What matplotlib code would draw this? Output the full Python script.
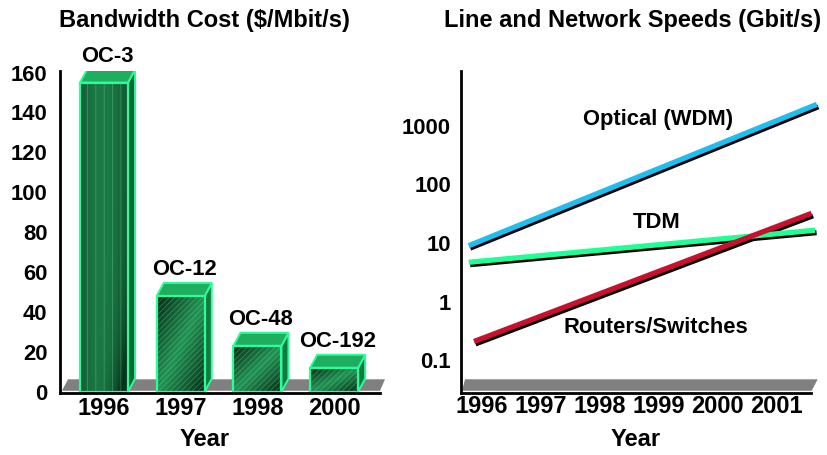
import matplotlib.pyplot as plt
import matplotlib.transforms as mtransforms
from matplotlib.patches import Polygon, Rectangle
import numpy as np

plt.rcParams['font.family'] = ['Liberation Sans', 'DejaVu Sans']
plt.rcParams['font.weight'] = 'bold'
plt.rcParams['hatch.linewidth'] = 0.6

# --- bandwidth cost per year ---
cost_years = ['1996', '1997', '1998', '2000']
cost_values = [155, 48, 23, 12]
cost_labels = ['OC-3', 'OC-12', 'OC-48', 'OC-192']

# --- line / network speeds (start and end of each trend) ---
speed_years = [1996, 1997, 1998, 1999, 2000, 2001]
optical_x = [1995.78, 2001.68]
optical_y = [9.0, 2300]
tdm_x = [1995.78, 2001.65]
tdm_y = [4.7, 16.5]
router_x = [1995.87, 2001.59]
router_y = [0.21, 32]
speed_ticks = [0.1, 1, 10, 100, 1000]
speed_ticklabels = ['0.1', '1', '10', '100', '1000']

W, H = 828, 455
fig = plt.figure(figsize=(W / 100, H / 100), dpi=100)


def px_axes(left, top, right, bottom):
    return fig.add_axes([left / W, 1 - bottom / H, (right - left) / W, (bottom - top) / H])


FS = 15.8     # tick labels / annotations
FS_YR = 17    # year tick labels
FS_T = 17     # titles

# === LEFT: BANDWIDTH COST === #
ax1 = px_axes(60, 71, 380, 392.7)
ax1.set_xlim(-0.574, 3.598)
ax1.set_ylim(-0.5, 160.8)

# gray floor behind the bars
floor1 = Polygon([[0.006, 0.006], [1.0, 0.006], [1.0156, 0.0417], [0.025, 0.0417]],
                 closed=True, transform=ax1.transAxes, facecolor='#808080',
                 edgecolor='none', clip_on=False, zorder=1)
ax1.add_patch(floor1)

bw = 0.626
dx = 7 / 76.7      # depth offset (x units)
dy = 13 / 1.994    # depth offset (y units)
edge = '#2efc98'

gx, gy = np.meshgrid(np.linspace(0, 1, 40), np.linspace(0, 1, 120))
dark = np.array([0.03, 0.20, 0.11])
light = np.array([0.13, 0.58, 0.33])
for i, v in enumerate(cost_values):
    x0, x1 = i - bw / 2, i + bw / 2
    # side and top faces
    side_c = '#0e6636' if i == 0 else '#127a40'
    side = Polygon([[x1, 0], [x1 + dx, dy], [x1 + dx, v + dy], [x1, v]], closed=True,
                   facecolor=side_c, edgecolor=edge, lw=1.4, zorder=3)
    top = Polygon([[x0, v], [x1, v], [x1 + dx, v + dy], [x0 + dx, v + dy]], closed=True,
                  facecolor='#1fae60', edgecolor=edge, lw=1.4, zorder=3)
    ax1.add_patch(side)
    ax1.add_patch(top)

    # front face shading
    if i == 0:
        shade = 0.15 + 0.6 * np.sin(np.pi * (0.15 + 0.75 * gx)) - 0.9 * (gx ** 3) * (1 - gy) ** 6
    else:
        shade = 1.0 - 1.1 * np.abs(gx - gy)
    shade = np.clip(shade, 0, 1)
    img = dark + shade[..., None] * (light - dark)
    front = Rectangle((x0, 0), bw, v, facecolor='none', edgecolor='none', zorder=4)
    ax1.add_patch(front)
    im = ax1.imshow(img, extent=(x0, x1, 0, v), origin='lower', aspect='auto',
                    interpolation='bilinear', zorder=4)
    im.set_clip_path(front)
    hatch = '||' if i == 0 else '//////'
    ax1.add_patch(Rectangle((x0, 0), bw, v, fill=False, hatch=hatch,
                            edgecolor=(0.6, 0.9, 0.7, 0.3), lw=0, zorder=5))
    ax1.add_patch(Rectangle((x0, 0), bw, v, fill=False, edgecolor=edge, lw=1.6, zorder=6))

    ax1.text(i + dx / 2, v + dy + 1.5, cost_labels[i], ha='center', va='bottom',
             fontsize=FS, fontweight='bold', clip_on=False)

ax1.set_xticks(range(len(cost_years)))
ax1.set_xticklabels(cost_years, fontsize=FS_YR)
ax1.set_yticks(np.arange(0, 161, 20))
ax1.set_yticklabels([str(t) for t in range(0, 161, 20)], fontsize=FS)
ax1.tick_params(axis='both', length=0)
ax1.tick_params(axis='y', pad=9)
ax1.tick_params(axis='x', pad=3)
for s in ['top', 'right']:
    ax1.spines[s].set_visible(False)
for s in ['left', 'bottom']:
    ax1.spines[s].set_linewidth(2)
    ax1.spines[s].set_zorder(7)
ax1.patch.set_alpha(0)

# === RIGHT: LINE AND NETWORK SPEEDS === #
ax2 = px_axes(460.7, 71, 811, 392.7)
ax2.set_yscale('log')
ax2.set_xlim(1995.644, 2001.581)
ax2.set_ylim(10 ** -1.55, 10 ** 3.93)

floor2 = Polygon([[0.004, 0.006], [1.002, 0.006], [1.019, 0.0417], [0.0123, 0.0417]],
                 closed=True, transform=ax2.transAxes, facecolor='#808080',
                 edgecolor='none', clip_on=False, zorder=1)
ax2.add_patch(floor2)

shadow = mtransforms.offset_copy(ax2.transData, fig=fig, x=1.5, y=-2.5, units='dots')
series = [(optical_x, optical_y, '#1ebef0'),
          (tdm_x, tdm_y, '#1eff96'),
          (router_x, router_y, '#c8102e')]
for xs, ys, c in series:
    ax2.plot(xs, ys, color='black', lw=3.6, transform=shadow, solid_capstyle='butt',
             clip_on=False, zorder=3)
    ax2.plot(xs, ys, color=c, lw=3.8, solid_capstyle='butt', clip_on=False, zorder=4)

ax2.text(1998.99, 1250, 'Optical (WDM)', ha='center', va='center', fontsize=FS)
ax2.text(1998.97, 22, 'TDM', ha='center', va='center', fontsize=FS)
ax2.text(1998.95, 0.37, 'Routers/Switches', ha='center', va='center', fontsize=FS)

ax2.set_xticks(speed_years)
ax2.set_xticklabels([str(y) for y in speed_years], fontsize=FS_YR)
ax2.set_yticks(speed_ticks)
ax2.set_yticklabels(speed_ticklabels, fontsize=FS)
ax2.minorticks_off()
ax2.tick_params(axis='both', length=0)
ax2.tick_params(axis='y', pad=7)
ax2.tick_params(axis='x', pad=2)
for s in ['top', 'right']:
    ax2.spines[s].set_visible(False)
for s in ['left', 'bottom']:
    ax2.spines[s].set_linewidth(2)
    ax2.spines[s].set_zorder(7)
ax2.patch.set_alpha(0)

# titles and axis names
fig.text(204.5 / W, 1 - 21 / H, 'Bandwidth Cost ($/Mbit/s)', ha='center', va='center',
         fontsize=FS_T, fontweight='bold')
fig.text(632.5 / W, 1 - 21 / H, 'Line and Network Speeds (Gbit/s)', ha='center', va='center',
         fontsize=FS_T, fontweight='bold')
fig.text(205 / W, 1 - 439 / H, 'Year', ha='center', va='center', fontsize=FS_T, fontweight='bold')
fig.text(636 / W, 1 - 439 / H, 'Year', ha='center', va='center', fontsize=FS_T, fontweight='bold')

fig.savefig('out.png', dpi=100)
